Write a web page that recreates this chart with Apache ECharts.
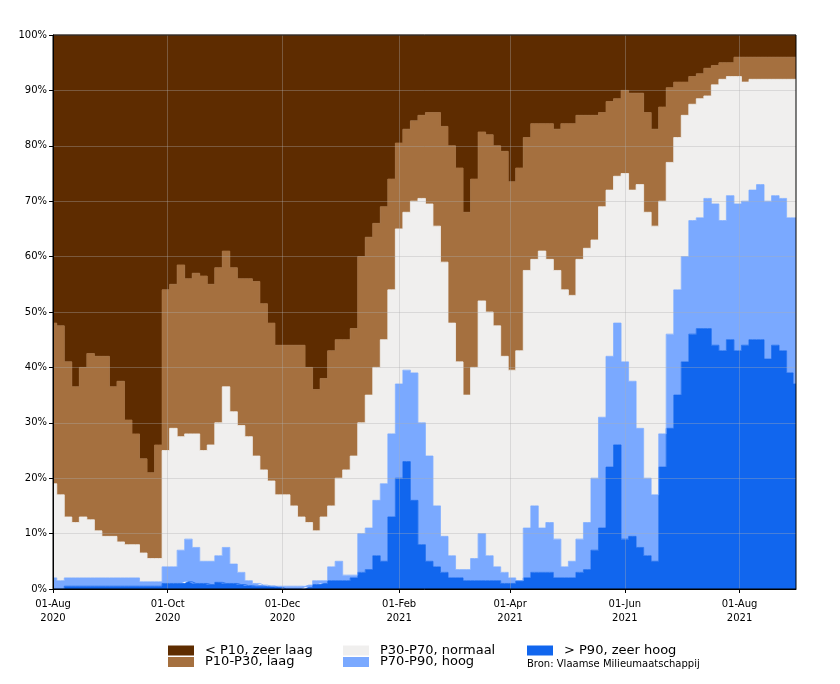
<!DOCTYPE html>
<html><head><meta charset="utf-8">
<script src="https://cdn.jsdelivr.net/npm/echarts@6/dist/echarts.min.js"></script>
<style>html,body{margin:0;padding:0;background:#fff}#c{width:840px;height:684px}</style>
</head><body><div id="c"></div>
<script>
// Sample dates (category values on the daily axis)
const sampleDates = [
'2020-08-01','2020-08-05','2020-08-09','2020-08-13','2020-08-17','2020-08-21','2020-08-25','2020-08-29','2020-09-02','2020-09-06','2020-09-10','2020-09-14','2020-09-18','2020-09-22','2020-09-26','2020-09-30',
'2020-10-04','2020-10-08','2020-10-12','2020-10-16','2020-10-20','2020-10-24','2020-10-28','2020-11-01','2020-11-05','2020-11-09','2020-11-13','2020-11-17','2020-11-21','2020-11-25','2020-11-29','2020-12-03',
'2020-12-07','2020-12-11','2020-12-15','2020-12-19','2020-12-23','2020-12-27','2020-12-31','2021-01-04','2021-01-08','2021-01-12','2021-01-16','2021-01-20','2021-01-24','2021-01-28','2021-02-01','2021-02-05',
'2021-02-09','2021-02-13','2021-02-17','2021-02-21','2021-02-25','2021-03-01','2021-03-05','2021-03-09','2021-03-13','2021-03-17','2021-03-21','2021-03-25','2021-03-29','2021-04-02',
'2021-04-06','2021-04-10','2021-04-14','2021-04-18','2021-04-22','2021-04-26','2021-04-30','2021-05-04','2021-05-08','2021-05-12','2021-05-16','2021-05-20','2021-05-24','2021-05-28','2021-06-01',
'2021-06-05','2021-06-09','2021-06-13','2021-06-17','2021-06-21','2021-06-25','2021-06-29','2021-07-03','2021-07-07','2021-07-11','2021-07-15','2021-07-19','2021-07-23','2021-07-27','2021-07-31',
'2021-08-04','2021-08-08','2021-08-12','2021-08-16','2021-08-20','2021-08-24','2021-08-28','2021-08-31'];

// Cumulative boundaries (%): top of each band
const topZeerHoog = [
0,0,0.5,0.5,0.5,0.5,0.5,0.5,0.5,0.5,0.5,0.5,0.5,0.5,0.5,1,
1,1,1.3,1,1,0.8,1.2,1,1,0.8,0.6,0.5,0.5,0.5,0.3,0,
0,0,0.3,0.8,1,1.5,1.5,1.5,2,3,3.5,6,5,13,20,23,
16,8,5,4,3,2,2,1.5,1.5,1.5,1.5,1.5,1,1,
1.5,2,3,3,3,2,2,2,3,3.5,7,11,22,26,9,
9.5,7.5,6,5,22,29,35,41,46,47,47,44,43,45,43,
44,45,45,41.5,44,43,39,37];
const topHoog = [
2,1.5,2,2,2,2,2,2,2,2,2,2,1.3,1.3,1.3,4,
4,7,9,7.5,5,5,6,7.5,4.5,3,1.5,1,0.7,0.5,0.5,0.5,
0.5,0.5,0.7,1.5,1.5,4,5,2.5,2.5,10,11,16,19,28,37,39.5,
39,30,24,15,9.5,6,3.5,3.5,5.5,10,6,4,3,2,
1.5,11,15,11,12,9,4,5,9,12,20,31,42,48,41,
37.5,29,20,17,28,46,54,60,66.5,67,70.5,69.5,66.5,71,69.5,
70,72,73,70,71,70.5,67,67];
const topNormaal = [
19,17,13,12,13,12.5,10.5,9.5,9.5,8.5,8,8,6.5,5.5,5.5,25,
29,27.5,28,28,25,26,30,36.5,32,29.5,27.5,24,21.5,19.5,17,17,
15,13,12,10.5,13,15,20,21.5,24,30,35,40,45,54,65,68,
70,70.5,69.5,65.5,59,48,41,35,40,52,50,47.5,42,39.5,
43,57.5,59.5,61,59.5,57.5,54,53,59.5,61.5,63,69,72,74.5,75,
72,73,68,65.5,70,77,81.5,85.5,87.5,88.5,89,91,92,92.5,92.5,
91.5,92,92,92,92,92,92,92];
const topLaag = [
48,47.5,41,36.5,40,42.5,42,42,36.5,37.5,30.5,28,23.5,21,26,54,
55,58.5,56,57,56.5,55,58,61,58,56,56,55.5,51.5,48,44,44,
44,44,40,36,38,43,45,45,47,60,63.5,66,69,74,80.5,83,
84.5,85.5,86,86,83.5,80,76,68,74,82.5,82,80,79,73.5,
76,81.5,84,84,84,83,84,84,85.5,85.5,85.5,86,88,88.5,90,
89.5,89.5,86,83,87,90.5,91.5,91.5,92.5,93,94,94.5,95,95,96,
96,96,96,96,96,96,96,96];

const tickDates = ['2020-08-01','2020-10-01','2020-12-01','2021-02-01','2021-04-01','2021-06-01','2021-08-01'];
const tickLabels = ['01-Aug\n2020','01-Oct\n2020','01-Dec\n2020','01-Feb\n2021','01-Apr\n2021','01-Jun\n2021','01-Aug\n2021'];
const names = ['< P10, zeer laag','P10-P30, laag','P30-P70, normaal','P70-P90, hoog','> P90, zeer hoog'];
const colors = ['#5e2c00','#a5703f','#f0efee','#7aa9ff','#1166ee'];

// daily category axis
const days = [];
for (let t = Date.UTC(2020,7,1); t <= Date.UTC(2021,7,31); t += 86400000) days.push(new Date(t).toISOString().slice(0,10));

const band = (hi, lo) => hi.map((v,i) => +(v - (lo ? lo[i] : 0)).toFixed(2));
const shares = [
  topLaag.map(v => +(100 - v).toFixed(2)),
  band(topLaag, topNormaal),
  band(topNormaal, topHoog),
  band(topHoog, topZeerHoog),
  band(topZeerHoog)
];

const isTick = (i, v) => tickDates.indexOf(v) >= 0;
const gridLine = {show:true, interval:isTick, lineStyle:{color:'rgba(176,176,176,0.35)', width:1}};
const FONT = 'DejaVu Sans';

const series = [];
for (let k = 4; k >= 0; k--) {
  series.push({
    name: names[k], type:'line', stack:'total', step:'middle', symbol:'none',
    lineStyle:{width:0.8, color:colors[k]}, itemStyle:{color:colors[k]},
    areaStyle:{color:colors[k], opacity:1},
    data: sampleDates.map((d,i) => [d, shares[k][i]])
  });
}

const legendBase = {orient:'vertical', icon:'rect', itemWidth:26, itemHeight:10, itemGap:-1.5, padding:0,
  textStyle:{fontSize:13, color:'#000', fontFamily:FONT, lineHeight:10, padding:[0,0,0,6]}, selectedMode:false};

const chart = echarts.init(document.getElementById('c'));
chart.setOption({
  animation:false,
  backgroundColor:'#fff',
  textStyle:{fontFamily:FONT},
  grid:{left:53, right:44, top:35, bottom:95, show:true, z:10, borderColor:'#000', borderWidth:1, backgroundColor:'transparent'},
  xAxis:{type:'category', data:days, boundaryGap:false, z:5,
    axisLine:{lineStyle:{color:'#000', width:1}},
    axisTick:{interval:isTick, length:4, lineStyle:{color:'#000'}},
    axisLabel:{interval:isTick, color:'#000', fontSize:10, lineHeight:14, margin:8, fontFamily:FONT,
      formatter:v => tickLabels[tickDates.indexOf(v)]},
    splitLine:gridLine},
  yAxis:{type:'value', min:0, max:100, interval:10, z:5,
    axisLine:{show:true, lineStyle:{color:'#000', width:1}},
    axisTick:{show:true, length:4, lineStyle:{color:'#000'}},
    axisLabel:{formatter:'{value}%', color:'#000', fontSize:10, margin:6, fontFamily:FONT},
    splitLine:{show:true, lineStyle:{color:'rgba(176,176,176,0.35)', width:1}}},
  legend:[
    Object.assign({}, legendBase, {data:[names[0], names[1]], left:168, top:644}),
    Object.assign({}, legendBase, {data:[names[2], names[3]], left:343, top:644}),
    Object.assign({}, legendBase, {data:[names[4]], left:527, top:644})
  ],
  graphic:[{type:'text', left:527, top:659, style:{text:'Bron: Vlaamse Milieumaatschappij', fontSize:10, fill:'#000', fontFamily:FONT}}],
  series
});
</script></body></html>
